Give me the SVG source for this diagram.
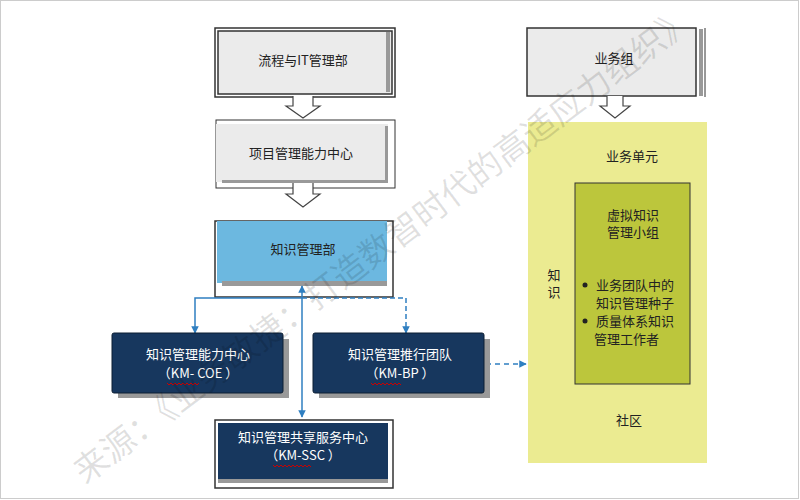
<svg xmlns="http://www.w3.org/2000/svg" width="800" height="500" viewBox="0 0 800 500">
<defs>
<style>
.t{font-family:"Noto Sans CJK SC","Liberation Sans",sans-serif;font-size:13px;fill:#222;text-anchor:middle}
.s{text-anchor:start}
.w{fill:#fff}
.gbox{fill:#ebebeb;stroke:#333;stroke-width:1.5}
.dark{fill:#17375e;stroke:#0c1e33;stroke-width:1}
.sh{fill:#999}
.hol{fill:#fff;stroke:#444;stroke-width:1.2}
.c{fill:none;stroke:#2f7fc1;stroke-width:1.5}
.sq{stroke:#c00;stroke-width:1;fill:none}
</style>
<marker id="ah" viewBox="0 0 10 10" refX="9" refY="5" markerWidth="5" markerHeight="5" orient="auto-start-reverse"><path d="M0,0L10,5L0,10z" fill="#2f7fc1"/></marker>
</defs>
<rect x="0" y="0" width="800" height="500" fill="#fff"/>
<rect x="0.5" y="0.5" width="798" height="498" fill="none" stroke="#ccc"/>

<g id="n1"><rect x="215" y="28" width="180" height="69" fill="#fff" stroke="#333" stroke-width="1.5"/><rect x="218" y="31" width="174" height="63" class="gbox"/><rect x="386" y="32" width="4" height="60" class="sh"/><text x="303" y="65" class="t">流程与IT管理部</text></g>
<g id="a1"><path d="M293,96V106H286L303,118L320,106H313V96" class="hol"/></g>
<g id="n2"><rect x="216" y="120" width="179" height="68" fill="#fff" stroke="#333" stroke-width="1"/><rect x="216" y="124" width="172" height="58" fill="#ebebeb"/><rect x="222" y="180" width="166" height="3" class="sh"/><rect x="385" y="126" width="3" height="57" class="sh"/><text x="301" y="158" class="t">项目管理能力中心</text></g>
<g id="a2"><path d="M293,183V194H286L303,207L320,194H313V183" class="hol"/></g>
<g id="n3"><rect x="215" y="221" width="178" height="76" fill="#fff" stroke="#333" stroke-width="1.5"/><rect x="217" y="221" width="170" height="62" fill="#6cb8e0"/><rect x="222" y="281" width="165" height="5" class="sh"/><text x="303" y="254" class="t">知识管理部</text></g>

<g id="connectors">
<path d="M302,286V417" class="c" marker-start="url(#ah)" marker-end="url(#ah)"/>
<path d="M302,298H195V333" class="c" marker-end="url(#ah)"/>
<path d="M302,298H406V333" class="c" stroke-dasharray="5,3" marker-end="url(#ah)"/>
<path d="M486,364H526" class="c" stroke-dasharray="5,4" marker-end="url(#ah)"/>
</g>

<g id="coe"><rect x="118" y="339" width="171" height="59" class="sh"/><rect x="112" y="333" width="171" height="60" rx="2" class="dark"/><text x="198" y="359" class="t w">知识管理能力中心</text><text x="198" y="378" class="t w">（KM- COE ）</text><path d="M167,383l2,2l2,-2l2,2l2,-2l2,2l2,-2l2,2l2,-2l2,2l2,-2l2,2l2,-2l2,2l2,-2l2,2l2,-2" class="sq"/></g>
<g id="bp"><rect x="319" y="339" width="171" height="59" class="sh"/><rect x="313" y="333" width="171" height="60" rx="2" class="dark"/><text x="400" y="359" class="t w">知识管理推行团队</text><text x="400" y="378" class="t w">（KM-BP ）</text><path d="M371,383l2,2l2,-2l2,2l2,-2l2,2l2,-2l2,2l2,-2l2,2l2,-2l2,2l2,-2l2,2l2,-2l2,2" class="sq"/></g>
<g id="ssc"><rect x="215" y="420" width="178" height="68" fill="#fff" stroke="#333" stroke-width="1.5"/><rect x="218" y="423" width="170" height="60" fill="#17375e"/><rect x="218" y="479" width="170" height="4" class="sh"/><text x="303" y="442" class="t w">知识管理共享服务中心</text><text x="303" y="460" class="t w">（KM-SSC ）</text><path d="M273,465l2,2l2,-2l2,2l2,-2l2,2l2,-2l2,2l2,-2l2,2l2,-2l2,2l2,-2l2,2l2,-2l2,2l2,-2l2,2l2,-2l2,2" class="sq"/></g>

<g id="n4"><rect x="527" y="28" width="169" height="68" class="gbox" stroke-width="1"/><rect x="699" y="29" width="4" height="67" class="sh"/><line x1="705" y1="28" x2="705" y2="97" stroke="#333"/><text x="614" y="63" class="t">业务组</text></g>
<g id="a4"><path d="M607,96V106H600L615,118L630,106H623V96" class="hol"/></g>
<g id="unit"><rect x="528" y="122" width="179" height="341" fill="#ebeb91"/><text x="632" y="161" class="t">业务单元</text><text x="554" y="280" class="t">知</text><text x="554" y="297" class="t">识</text><text x="629" y="425" class="t">社区</text></g>
<g id="vteam"><rect x="575" y="183" width="115" height="201" fill="#bcc63c" stroke="#333" stroke-width="1"/><text x="633" y="220" class="t">虚拟知识</text><text x="633" y="237" class="t">管理小组</text>
<circle cx="585" cy="285" r="2.5" fill="#222"/><text x="596" y="290" class="t s">业务团队中的</text><text x="596" y="308" class="t s">知识管理种子</text>
<circle cx="585" cy="321" r="2.5" fill="#222"/><text x="596" y="326" class="t s">质量体系知识</text><text x="594" y="344" class="t s">管理工作者</text></g>

<text x="0" y="0" transform="translate(85,485) rotate(-37)" font-family="Noto Sans CJK SC,sans-serif" font-size="34" fill="#000" fill-opacity="0.12">来源：《业务敏捷：打造数智时代的高适应力组织》</text>
</svg>
